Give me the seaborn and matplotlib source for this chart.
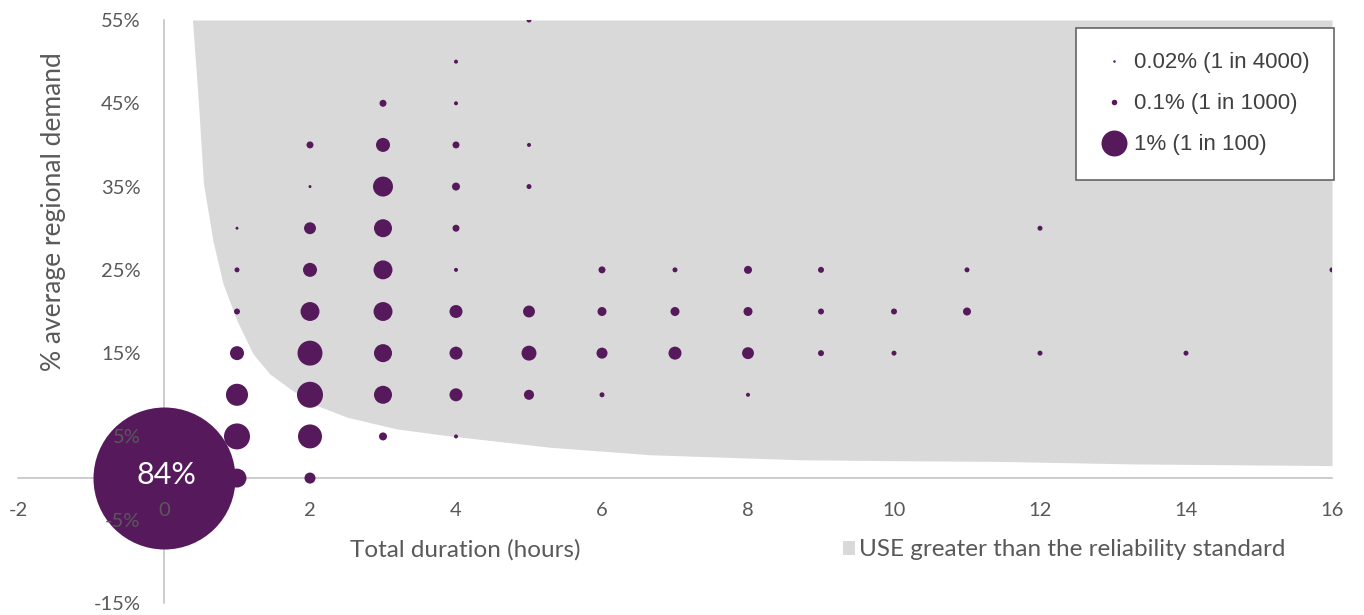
import numpy as np
import pandas as pd
import matplotlib
matplotlib.use("Agg")
import matplotlib.pyplot as plt
import seaborn as sns
from matplotlib.lines import Line2D
from matplotlib.patches import Patch

# bubble grid: duration (h), depth (% of avg regional demand), probability (%)
duration = [1, 1, 1, 1, 1, 1, 1,
            2, 2, 2, 2, 2, 2, 2, 2, 2,
            3, 3, 3, 3, 3, 3, 3, 3, 3,
            4, 4, 4, 4, 4, 4, 4, 4, 4, 4,
            5, 5, 5, 5, 5, 5,
            6, 6, 6, 6,
            7, 7, 7,
            8, 8, 8, 8,
            9, 9, 9,
            10, 10,
            11, 11,
            12, 12,
            14,
            16]
depth = [0, 5, 10, 15, 20, 25, 30,
         0, 5, 10, 15, 20, 25, 30, 35, 40,
         5, 10, 15, 20, 25, 30, 35, 40, 45,
         5, 10, 15, 20, 25, 30, 35, 40, 45, 50,
         10, 15, 20, 35, 40, 55,
         10, 15, 20, 25,
         15, 20, 25,
         10, 15, 20, 25,
         15, 20, 25,
         15, 20,
         20, 25,
         15, 30,
         15,
         25]
prob = [0.53, 1.08, 0.72, 0.29, 0.053, 0.037, 0.013,
        0.18, 0.85, 1.0, 0.92, 0.53, 0.29, 0.21, 0.013, 0.072,
        0.095, 0.48, 0.48, 0.53, 0.53, 0.48, 0.59, 0.29, 0.072,
        0.024, 0.25, 0.25, 0.25, 0.024, 0.072, 0.095, 0.072, 0.024, 0.024,
        0.15, 0.33, 0.21, 0.037, 0.024, 0.037,
        0.037, 0.18, 0.12, 0.072,
        0.25, 0.12, 0.037,
        0.024, 0.21, 0.12, 0.095,
        0.053, 0.053, 0.053,
        0.037, 0.053,
        0.095, 0.037,
        0.037, 0.037,
        0.037,
        0.037]

# no unserved energy at all
origin_prob = 84

# boundary above which USE exceeds the reliability standard
boundary_x = [0.39, 0.47, 0.54, 0.67, 0.81, 1.0, 1.22, 1.45, 1.73, 2.04, 2.51,
              3.19, 3.88, 5.29, 6.66, 8.71, 9.85, 11.45, 13.27, 14.64, 16.0]
boundary_y = [55, 45.3, 35.4, 28.5, 23.3, 18.9, 14.9, 12.5, 10.7, 8.9, 7.3,
              5.9, 5.1, 3.7, 2.8, 2.2, 2.1, 2.0, 1.7, 1.6, 1.5]

x_ticks = np.arange(-2, 17, 2)
y_ticks = np.arange(-15, 56, 10)

legend_labels = ["0.02% (1 in 4000)", "0.1% (1 in 1000)", "1% (1 in 100)"]

PURPLE = "#561A5C"
SHADE = "#D9D9D9"
AXIS = "#BFBFBF"
TEXT = "#595959"

sns.set_style("white")
plt.rcParams["font.family"] = ["Lato", "DejaVu Sans"]
plt.rcParams["axes.unicode_minus"] = False

W, H = 1364, 615


def fx(px):
    return px / W


def fy(py):
    return 1 - py / H


fig = plt.figure(figsize=(W / 100, H / 100), dpi=100)
ax = fig.add_axes([fx(18), fy(603), (1332 - 18) / W, (603 - 20) / H])

ax.fill_between(boundary_x, boundary_y, 55, color=SHADE, lw=0, zorder=0.8)

df = pd.DataFrame({"duration": duration, "depth": depth, "prob": prob})
# area proportional to probability, 1% -> 26 px across
s_one = (26 / 100 * 72) ** 2
sns.scatterplot(data=df, x="duration", y="depth", size="prob",
                sizes=(0, s_one), size_norm=(0, 1), color=PURPLE,
                linewidth=0, legend=False, ax=ax, zorder=1)

# the origin bubble is capped in size like in the original chart
origin = pd.DataFrame({"duration": [0], "depth": [0], "prob": [origin_prob]})
sns.scatterplot(data=origin, x="duration", y="depth", s=(142 / 100 * 72) ** 2,
                color=PURPLE, linewidth=0, legend=False, ax=ax, zorder=1)
ax.text(0.04, 0.4, f"{origin_prob}%", color="white", fontsize=22,
        ha="center", va="center", zorder=3)

ax.set_xlim(-2, 16)
ax.set_ylim(-15, 55)
ax.set_xticks(x_ticks)
ax.set_xticklabels([str(v) for v in x_ticks])
ax.set_yticks(y_ticks)
ax.set_yticklabels([f"{v:.0f}%" for v in y_ticks])
ax.tick_params(length=0, pad=17, labelsize=14.5, labelcolor=TEXT)
ax.set_xlabel("")
ax.set_ylabel("")
ax.set_axisbelow(False)
ax.xaxis.set_zorder(2.5)
ax.yaxis.set_zorder(2.5)

for side in ["top", "right"]:
    ax.spines[side].set_visible(False)
for side in ["left", "bottom"]:
    ax.spines[side].set_position(("data", 0))
    ax.spines[side].set_color(AXIS)
    ax.spines[side].set_linewidth(1.1)
    ax.spines[side].set_zorder(0.5)

fig.text(fx(465), fy(550), "Total duration (hours)", ha="center", va="center",
         fontsize=17.5, color=TEXT)
fig.text(fx(54), fy(212), "% average regional demand", ha="center", va="center",
         rotation=90, fontsize=19, color=TEXT)

handles = [Line2D([], [], ls="", marker="o", color=PURPLE, markeredgewidth=0, markersize=ms)
           for ms in [1.8, 4.0, 18.7]]
leg = ax.legend(handles, legend_labels, loc="upper left",
                bbox_to_anchor=(fx(1076), fy(28)), bbox_transform=fig.transFigure,
                frameon=True, fancybox=False, borderaxespad=0, borderpad=1.1,
                handlelength=1.2, handletextpad=0.3, labelspacing=0.9,
                prop={"family": ["Liberation Sans"], "size": 16})
leg.get_frame().set_edgecolor(TEXT)
leg.get_frame().set_linewidth(1.1)
leg.get_frame().set_alpha(1)
leg.set_zorder(5)
for t in leg.get_texts():
    t.set_color("#404040")

fig.legend([Patch(facecolor=SHADE, edgecolor="none")],
           ["USE greater than the reliability standard"],
           loc="center left", bbox_to_anchor=(fx(843), fy(550)),
           frameon=False, borderpad=0, borderaxespad=0,
           handlelength=0.5, handleheight=0.5, handletextpad=0.15,
           prop={"size": 17.5}, labelcolor=TEXT)

fig.savefig("out.png", dpi=100)
